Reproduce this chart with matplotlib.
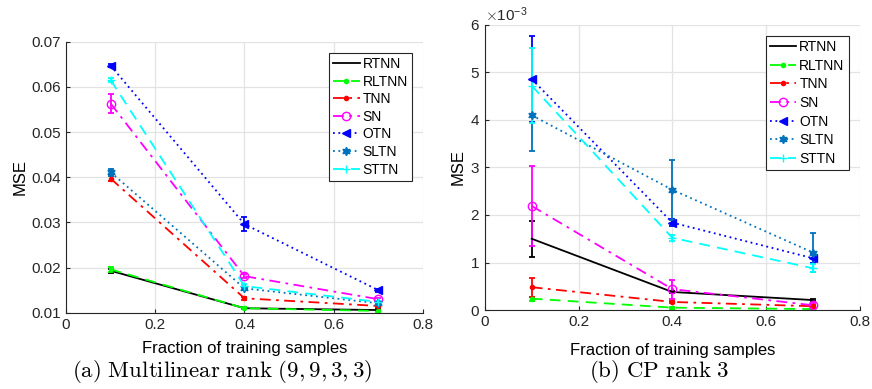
import numpy as np
import matplotlib
matplotlib.use("Agg")
import matplotlib.pyplot as plt
from matplotlib.ticker import ScalarFormatter

plt.rcParams['font.family'] = ['Liberation Sans', 'DejaVu Sans']
plt.rcParams['mathtext.fontset'] = 'cm'

x = [0.1, 0.4, 0.7]
names = ['RTNN', 'RLTNN', 'TNN', 'SN', 'OTN', 'SLTN', 'STTN']

# (a) multilinear rank (9,9,3,3)
mse_a = {
    'RTNN':  [0.0193, 0.0110, 0.0106],
    'RLTNN': [0.0196, 0.0110, 0.0104],
    'TNN':   [0.0397, 0.0132, 0.0115],
    'SN':    [0.0563, 0.0181, 0.0130],
    'OTN':   [0.0647, 0.0296, 0.0150],
    'SLTN':  [0.0411, 0.0154, 0.0121],
    'STTN':  [0.0615, 0.0159, 0.0124],
}
err_a = {
    'RTNN':  [0.0004, 0.0002, 0.0002],
    'RLTNN': [0.0005, 0.0002, 0.0002],
    'TNN':   [0.0005, 0.0003, 0.0002],
    'SN':    [0.0021, 0.0004, 0.0003],
    'OTN':   [0.0004, 0.0015, 0.0003],
    'SLTN':  [0.0008, 0.0004, 0.0003],
    'STTN':  [0.0004, 0.0004, 0.0003],
}

# (b) CP rank 3 (values in units of 1e-3)
mse_b = {
    'RTNN':  [1.50, 0.38, 0.21],
    'RLTNN': [0.24, 0.05, 0.02],
    'TNN':   [0.48, 0.17, 0.08],
    'SN':    [2.19, 0.44, 0.10],
    'OTN':   [4.86, 1.84, 1.09],
    'SLTN':  [4.10, 2.53, 1.21],
    'STTN':  [4.72, 1.52, 0.88],
}
err_b = {
    'RTNN':  [0.38, 0.03, 0.03],
    'RLTNN': [0.04, 0.02, 0.01],
    'TNN':   [0.20, 0.03, 0.02],
    'SN':    [0.84, 0.20, 0.05],
    'OTN':   [0.90, 0.08, 0.10],
    'SLTN':  [0.75, 0.63, 0.42],
    'STTN':  [0.79, 0.06, 0.08],
}

styles = {
    'RTNN':  dict(color='black', ls='-', marker='none', mfc='none'),
    'RLTNN': dict(color=(0, 1, 0), ls=(0, (6, 4)), marker='.', mfc=(0, 1, 0)),
    'TNN':   dict(color=(1, 0, 0), ls=(0, (6, 3, 1.5, 3)), marker='.', mfc=(1, 0, 0)),
    'SN':    dict(color=(1, 0, 1), ls=(0, (6, 3, 1.5, 3)), marker='o', mfc='none'),
    'OTN':   dict(color=(0, 0, 1), ls=(0, (1, 2)), marker='<', mfc=(0, 0, 1)),
    'SLTN':  dict(color=(0, 0.447, 0.741), ls=(0, (1, 2)), marker=(6, 1, 0), mfc=(0, 0.447, 0.741)),
    'STTN':  dict(color=(0, 1, 1), ls=(0, (6, 4)), marker='+', mfc=(0, 1, 1)),
}

fig = plt.figure(figsize=(8.72, 3.89), dpi=100)
ax1 = fig.add_axes([0.0757, 0.196, 0.4093, 0.697])
ax2 = fig.add_axes([0.556, 0.203, 0.430, 0.733])


def draw(ax, mse, err, scale, xpad, lspace):
    handles = []
    for n in names:
        s = styles[n]
        y = np.array(mse[n]) * scale
        e = np.array(err[n]) * scale
        c = ax.errorbar(x, y, yerr=e, color=s['color'], ls=s['ls'], lw=1.3,
                        marker=s['marker'], mfc=s['mfc'], mec=s['color'], ms=6,
                        capsize=2.5, elinewidth=1.3, capthick=1.3, label=n)
        handles.append(c[0])
    ax.set_xlim(0, 0.8)
    ax.set_xticks([0, 0.2, 0.4, 0.6, 0.8])
    ax.set_xticklabels(['0', '0.2', '0.4', '0.6', '0.8'])
    ax.grid(True, color='#e3e3e3', lw=0.9)
    ax.set_axisbelow(True)
    for sp in ['top', 'right']:
        ax.spines[sp].set_visible(False)
    for sp in ['left', 'bottom']:
        ax.spines[sp].set_color('#262626')
    ax.tick_params(direction='in', labelsize=11, colors='#262626', length=3)
    ax.set_xlabel('Fraction of training samples', fontsize=12, labelpad=xpad)
    ax.set_ylabel('MSE', fontsize=12, labelpad=3)
    leg = ax.legend(handles, names, loc='upper right', fontsize=10,
                    handlelength=1.9, handletextpad=0.2, labelspacing=lspace,
                    borderpad=0.3, fancybox=False, framealpha=1,
                    borderaxespad=0.8)
    leg.get_frame().set_edgecolor('#262626')
    leg.get_frame().set_linewidth(0.8)


draw(ax1, mse_a, err_a, 1.0, 7, 0.26)
ax1.set_ylim(0.01, 0.07)
ax1.set_yticks([0.01, 0.02, 0.03, 0.04, 0.05, 0.06, 0.07])
ax1.set_yticklabels(['0.01', '0.02', '0.03', '0.04', '0.05', '0.06', '0.07'])

draw(ax2, mse_b, err_b, 1e-3, 10, 0.33)
ax2.set_ylim(0, 6e-3)
ax2.set_yticks(np.arange(0, 7) * 1e-3)
fmt = ScalarFormatter(useMathText=True)
fmt.set_powerlimits((-3, -3))
ax2.yaxis.set_major_formatter(fmt)
ax2.yaxis.get_offset_text().set_fontsize(11)
ax2.yaxis.get_offset_text().set_color('#262626')

fig.text(0.255, 0.044, r'$\mathrm{(a)\ Multilinear\ rank\ }(9,9,3,3)$',
         ha='center', va='center', fontsize=16.5)
fig.text(0.756, 0.044, r'$\mathrm{(b)\ CP\ rank\ 3}$',
         ha='center', va='center', fontsize=16.5)

fig.savefig('out.png', dpi=100)
